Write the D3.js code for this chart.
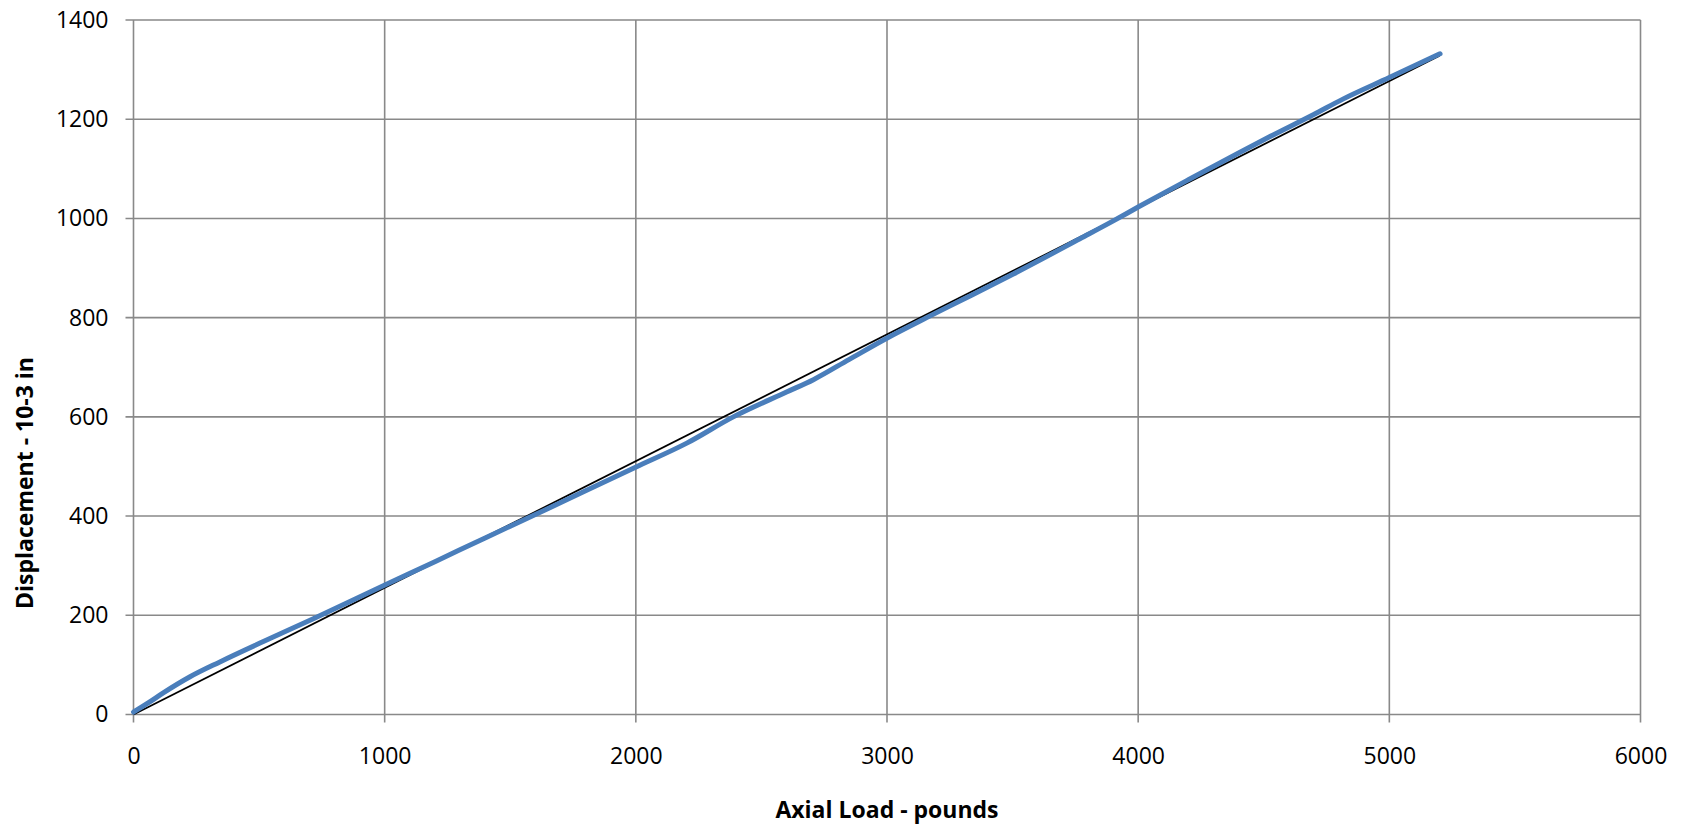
<!DOCTYPE html>
<html>
<head>
<meta charset="utf-8">
<script src="https://cdn.jsdelivr.net/npm/d3@7"></script>
<style>
  body { margin: 0; background: #fff; }
  text { font-family: "Open Sans", sans-serif; fill: #000; }
</style>
</head>
<body>
<svg id="mychart" width="1684" height="826"><g></g></svg>
<script>
// measured curve (blue)
const loads = [0, 60, 120, 225, 344, 517, 716, 1001, 1200, 1400, 1600, 1800, 2001, 2203, 2388, 2600, 2707, 2850, 3001, 3158, 3300, 3503, 3768, 3901, 4000, 4200, 4400, 4525, 4697, 4817, 5000, 5202];
const displacements = [5, 24, 44, 76, 106, 147, 193, 261, 308, 356, 403, 451, 499, 547, 600, 650, 675, 716, 759, 800, 836, 888, 959, 995, 1023, 1078, 1132, 1165, 1209, 1241, 1284, 1332];

// straight fit line (black)
const fitLoads = [0, 5200];
const fitDisplacements = [0, 1328];

const xTicks = [0, 1000, 2000, 3000, 4000, 5000, 6000];
const yTicks = [0, 200, 400, 600, 800, 1000, 1200, 1400];

const xTitle = "Axial Load - pounds";
const yTitle = "Displacement - 10-3 in";

// Set the dimensions of the chart
const margin = { top: 20, right: 43.5, bottom: 111.5, left: 133.5 },
  width = 1684,
  height = 826,
  innerWidth = width - margin.left - margin.right,
  innerHeight = height - margin.top - margin.bottom;

const svg = d3
  .select("#mychart")
  .select("g")
  .attr("transform", `translate(${margin.left},${margin.top})`);

const x_Scale = d3.scaleLinear().domain([0, 6000]).range([0, innerWidth]);
const y_Scale = d3.scaleLinear().domain([0, 1400]).range([innerHeight, 0]);

const gridColor = "#898989";
const fmt = d3.format("d"); // no thousands separator

// GRID
svg
  .selectAll(".hgrid")
  .data(yTicks)
  .join("line")
  .attr("class", "hgrid")
  .attr("x1", -8)
  .attr("x2", innerWidth)
  .attr("y1", (d) => y_Scale(d))
  .attr("y2", (d) => y_Scale(d))
  .attr("stroke", gridColor)
  .attr("stroke-width", 1.6);

svg
  .selectAll(".vgrid")
  .data(xTicks)
  .join("line")
  .attr("class", "vgrid")
  .attr("x1", (d) => x_Scale(d))
  .attr("x2", (d) => x_Scale(d))
  .attr("y1", 0)
  .attr("y2", innerHeight + 8)
  .attr("stroke", gridColor)
  .attr("stroke-width", 1.6);

// AXIS labels
svg
  .append("g")
  .attr("transform", `translate(0,${innerHeight})`)
  .call(d3.axisBottom(x_Scale).tickValues(xTicks).tickFormat(fmt).tickSize(0).tickPadding(33))
  .call((g) => g.select(".domain").remove())
  .selectAll("text")
  .attr("font-size", "23px")
  .attr("font-family", "Open Sans");

svg
  .append("g")
  .call(d3.axisLeft(y_Scale).tickValues(yTicks).tickFormat(fmt).tickSize(0).tickPadding(25))
  .call((g) => g.select(".domain").remove())
  .selectAll("text")
  .attr("font-size", "23px")
  .attr("font-family", "Open Sans");

// FIT LINE
const lineGen = d3
  .line()
  .x((d) => x_Scale(d[0]))
  .y((d) => y_Scale(d[1]));

svg
  .append("path")
  .attr("d", lineGen(d3.zip(fitLoads, fitDisplacements)))
  .attr("fill", "none")
  .attr("stroke", "#000")
  .attr("stroke-width", 1.8);

// MEASURED LINE
svg
  .append("path")
  .attr("d", lineGen.curve(d3.curveMonotoneX)(d3.zip(loads, displacements)))
  .attr("fill", "none")
  .attr("stroke", "#4a7ebb")
  .attr("stroke-width", 5)
  .attr("stroke-linecap", "round")
  .attr("stroke-linejoin", "round");

// TITLES
d3.select("#mychart")
  .append("text")
  .attr("x", margin.left + innerWidth / 2)
  .attr("y", 818)
  .attr("text-anchor", "middle")
  .attr("font-size", "23px")
  .attr("font-weight", "bold")
  .text(xTitle);

d3.select("#mychart")
  .append("text")
  .attr("transform", "translate(33,483) rotate(-90)")
  .attr("text-anchor", "middle")
  .attr("font-size", "23px")
  .attr("font-weight", "bold")
  .text(yTitle);
</script>
</body>
</html>
